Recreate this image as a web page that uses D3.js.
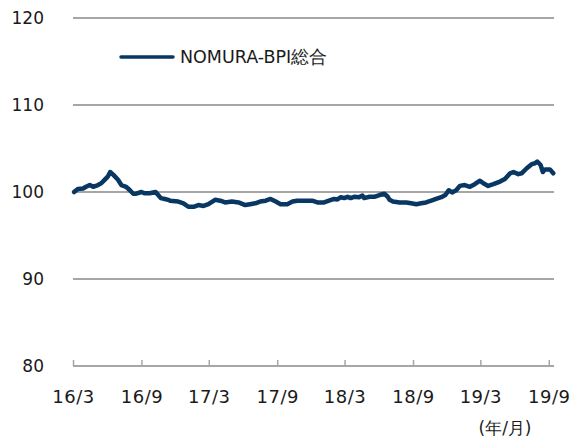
<!DOCTYPE html>
<html>
<head>
<meta charset="utf-8">
<script src="https://cdn.jsdelivr.net/npm/d3@7"></script>
<style>
  body { margin: 0; background: #fff; }
  text { font-family: "DejaVu Sans", Verdana, sans-serif; fill: #1a1a1a; }
</style>
</head>
<body>
<div id="chart"></div>
<script>
// NOMURA-BPI総合
const dates = [
  "2016-03-04","2016-03-14","2016-03-28","2016-04-05","2016-04-15","2016-04-24","2016-05-07","2016-05-16",
  "2016-05-25","2016-06-03","2016-06-09","2016-06-17","2016-06-30","2016-07-09","2016-07-22","2016-08-01",
  "2016-08-10","2016-08-18","2016-09-01","2016-09-10","2016-09-23","2016-10-09","2016-10-16","2016-10-23",
  "2016-11-03","2016-11-12","2016-11-17","2016-12-09","2016-12-23","2017-01-05","2017-01-19","2017-02-01",
  "2017-02-15","2017-02-28","2017-03-18","2017-04-01","2017-04-14","2017-05-02","2017-05-20","2017-06-07",
  "2017-06-20","2017-07-04","2017-07-17","2017-08-01","2017-08-14","2017-08-28","2017-09-10","2017-09-28",
  "2017-10-12","2017-10-25","2017-12-04","2017-12-18","2018-01-05","2018-01-18","2018-02-01","2018-02-10",
  "2018-02-19","2018-02-28","2018-03-09","2018-03-17","2018-03-27","2018-04-09","2018-04-18","2018-04-23",
  "2018-05-07","2018-05-20","2018-06-03","2018-06-16","2018-06-25","2018-06-30","2018-07-09","2018-07-27",
  "2018-08-14","2018-08-27","2018-09-10","2018-09-23","2018-10-06","2018-10-20","2018-11-02","2018-11-16",
  "2018-11-27","2018-12-06","2018-12-15","2018-12-26","2019-01-05","2019-01-18","2019-02-01","2019-02-14",
  "2019-02-28","2019-03-09","2019-03-22","2019-04-05","2019-04-23","2019-05-06","2019-05-20","2019-05-29",
  "2019-06-11","2019-06-20","2019-07-03","2019-07-17","2019-07-26","2019-08-01","2019-08-10","2019-08-16",
  "2019-08-22","2019-09-04","2019-09-13"
];
const values = [
  100.0,100.35,100.4,100.6,100.8,100.6,100.8,101.0,
  101.4,101.8,102.3,102.0,101.4,100.8,100.6,100.2,
  99.8,99.8,100.0,99.85,99.85,100.0,99.65,99.3,
  99.2,99.1,99.0,98.9,98.7,98.3,98.3,98.5,
  98.4,98.6,99.1,99.0,98.8,98.9,98.8,98.5,
  98.6,98.7,98.9,99.0,99.2,98.9,98.6,98.6,
  98.9,99.0,99.0,98.8,98.8,99.0,99.2,99.15,
  99.4,99.3,99.45,99.3,99.45,99.4,99.6,99.3,
  99.45,99.45,99.65,99.8,99.45,99.1,98.9,98.8,
  98.8,98.7,98.6,98.7,98.8,99.0,99.2,99.4,
  99.65,100.2,99.95,100.2,100.7,100.8,100.6,100.9,
  101.3,101.0,100.7,100.9,101.2,101.5,102.15,102.3,
  102.05,102.15,102.7,103.2,103.3,103.5,103.1,102.3,
  102.6,102.6,102.15
];
const xTicks = ["2016-03-01","2016-09-01","2017-03-01","2017-09-01","2018-03-01","2018-09-01","2019-03-01","2019-09-01"];
const yTicks = [80, 90, 100, 110, 120];
const seriesName = "NOMURA-BPI総合";
const unitLabel = "(年/月)";

const width = 571, height = 438;
const parse = d3.timeParse("%Y-%m-%d");
const data = dates.map((d, i) => ({ date: parse(d), value: values[i] }));

const x = d3.scaleTime()
    .domain([parse("2016-03-01"), parse("2019-09-15")])
    .range([73, 554]);
const y = d3.scaleLinear()
    .domain([80, 120])
    .range([366, 18]);

const svg = d3.select("#chart")
    .append("svg")
    .attr("width", width)
    .attr("height", height);

// horizontal gridlines
svg.append("g")
    .selectAll("line")
    .data(yTicks)
    .join("line")
    .attr("x1", x.range()[0])
    .attr("x2", x.range()[1])
    .attr("y1", d => y(d))
    .attr("y2", d => y(d))
    .attr("stroke", "#a6a6a6")
    .attr("stroke-width", 2);

// y labels
svg.append("g")
    .selectAll("text")
    .data(yTicks)
    .join("text")
    .attr("x", 44)
    .attr("y", d => y(d))
    .attr("dy", "0.35em")
    .attr("text-anchor", "end")
    .style("font-size", "17px")
    .text(d => d);

// x axis: ticks point up into the plot
const xAxis = d3.axisBottom(x)
    .tickValues(xTicks.map(parse))
    .tickSize(-6)
    .tickPadding(24)
    .tickFormat(d3.timeFormat("%y/%-m"));

const gx = svg.append("g")
    .attr("transform", `translate(0,${y(80)})`)
    .call(xAxis);
gx.select(".domain").remove();
gx.selectAll(".tick line").attr("stroke", "#a6a6a6").attr("stroke-width", 1.5);
gx.selectAll(".tick text")
    .style("font-size", "18px")
    .style("letter-spacing", "0.5px")
    .style("font-family", "'DejaVu Sans', Verdana, sans-serif")
    .attr("fill", "#1a1a1a");

svg.append("text")
    .attr("x", 505)
    .attr("y", 428)
    .attr("dy", "0.35em")
    .attr("text-anchor", "middle")
    .style("font-size", "17px")
    .text(unitLabel);

// series line
const line = d3.line()
    .x(d => x(d.date))
    .y(d => y(d.value));

svg.append("path")
    .datum(data)
    .attr("fill", "none")
    .attr("stroke", "#083763")
    .attr("stroke-width", 4.5)
    .attr("stroke-linejoin", "round")
    .attr("stroke-linecap", "round")
    .attr("d", line);

// legend
const legend = svg.append("g").attr("transform", "translate(121,57)");
legend.append("line")
    .attr("x1", 0).attr("x2", 52)
    .attr("stroke", "#083763")
    .attr("stroke-width", 3.5)
    .attr("stroke-linecap", "round");
legend.append("text")
    .attr("x", 59)
    .attr("dy", "0.35em")
    .style("font-size", "17.5px")
    .text(seriesName);
</script>
</body>
</html>
